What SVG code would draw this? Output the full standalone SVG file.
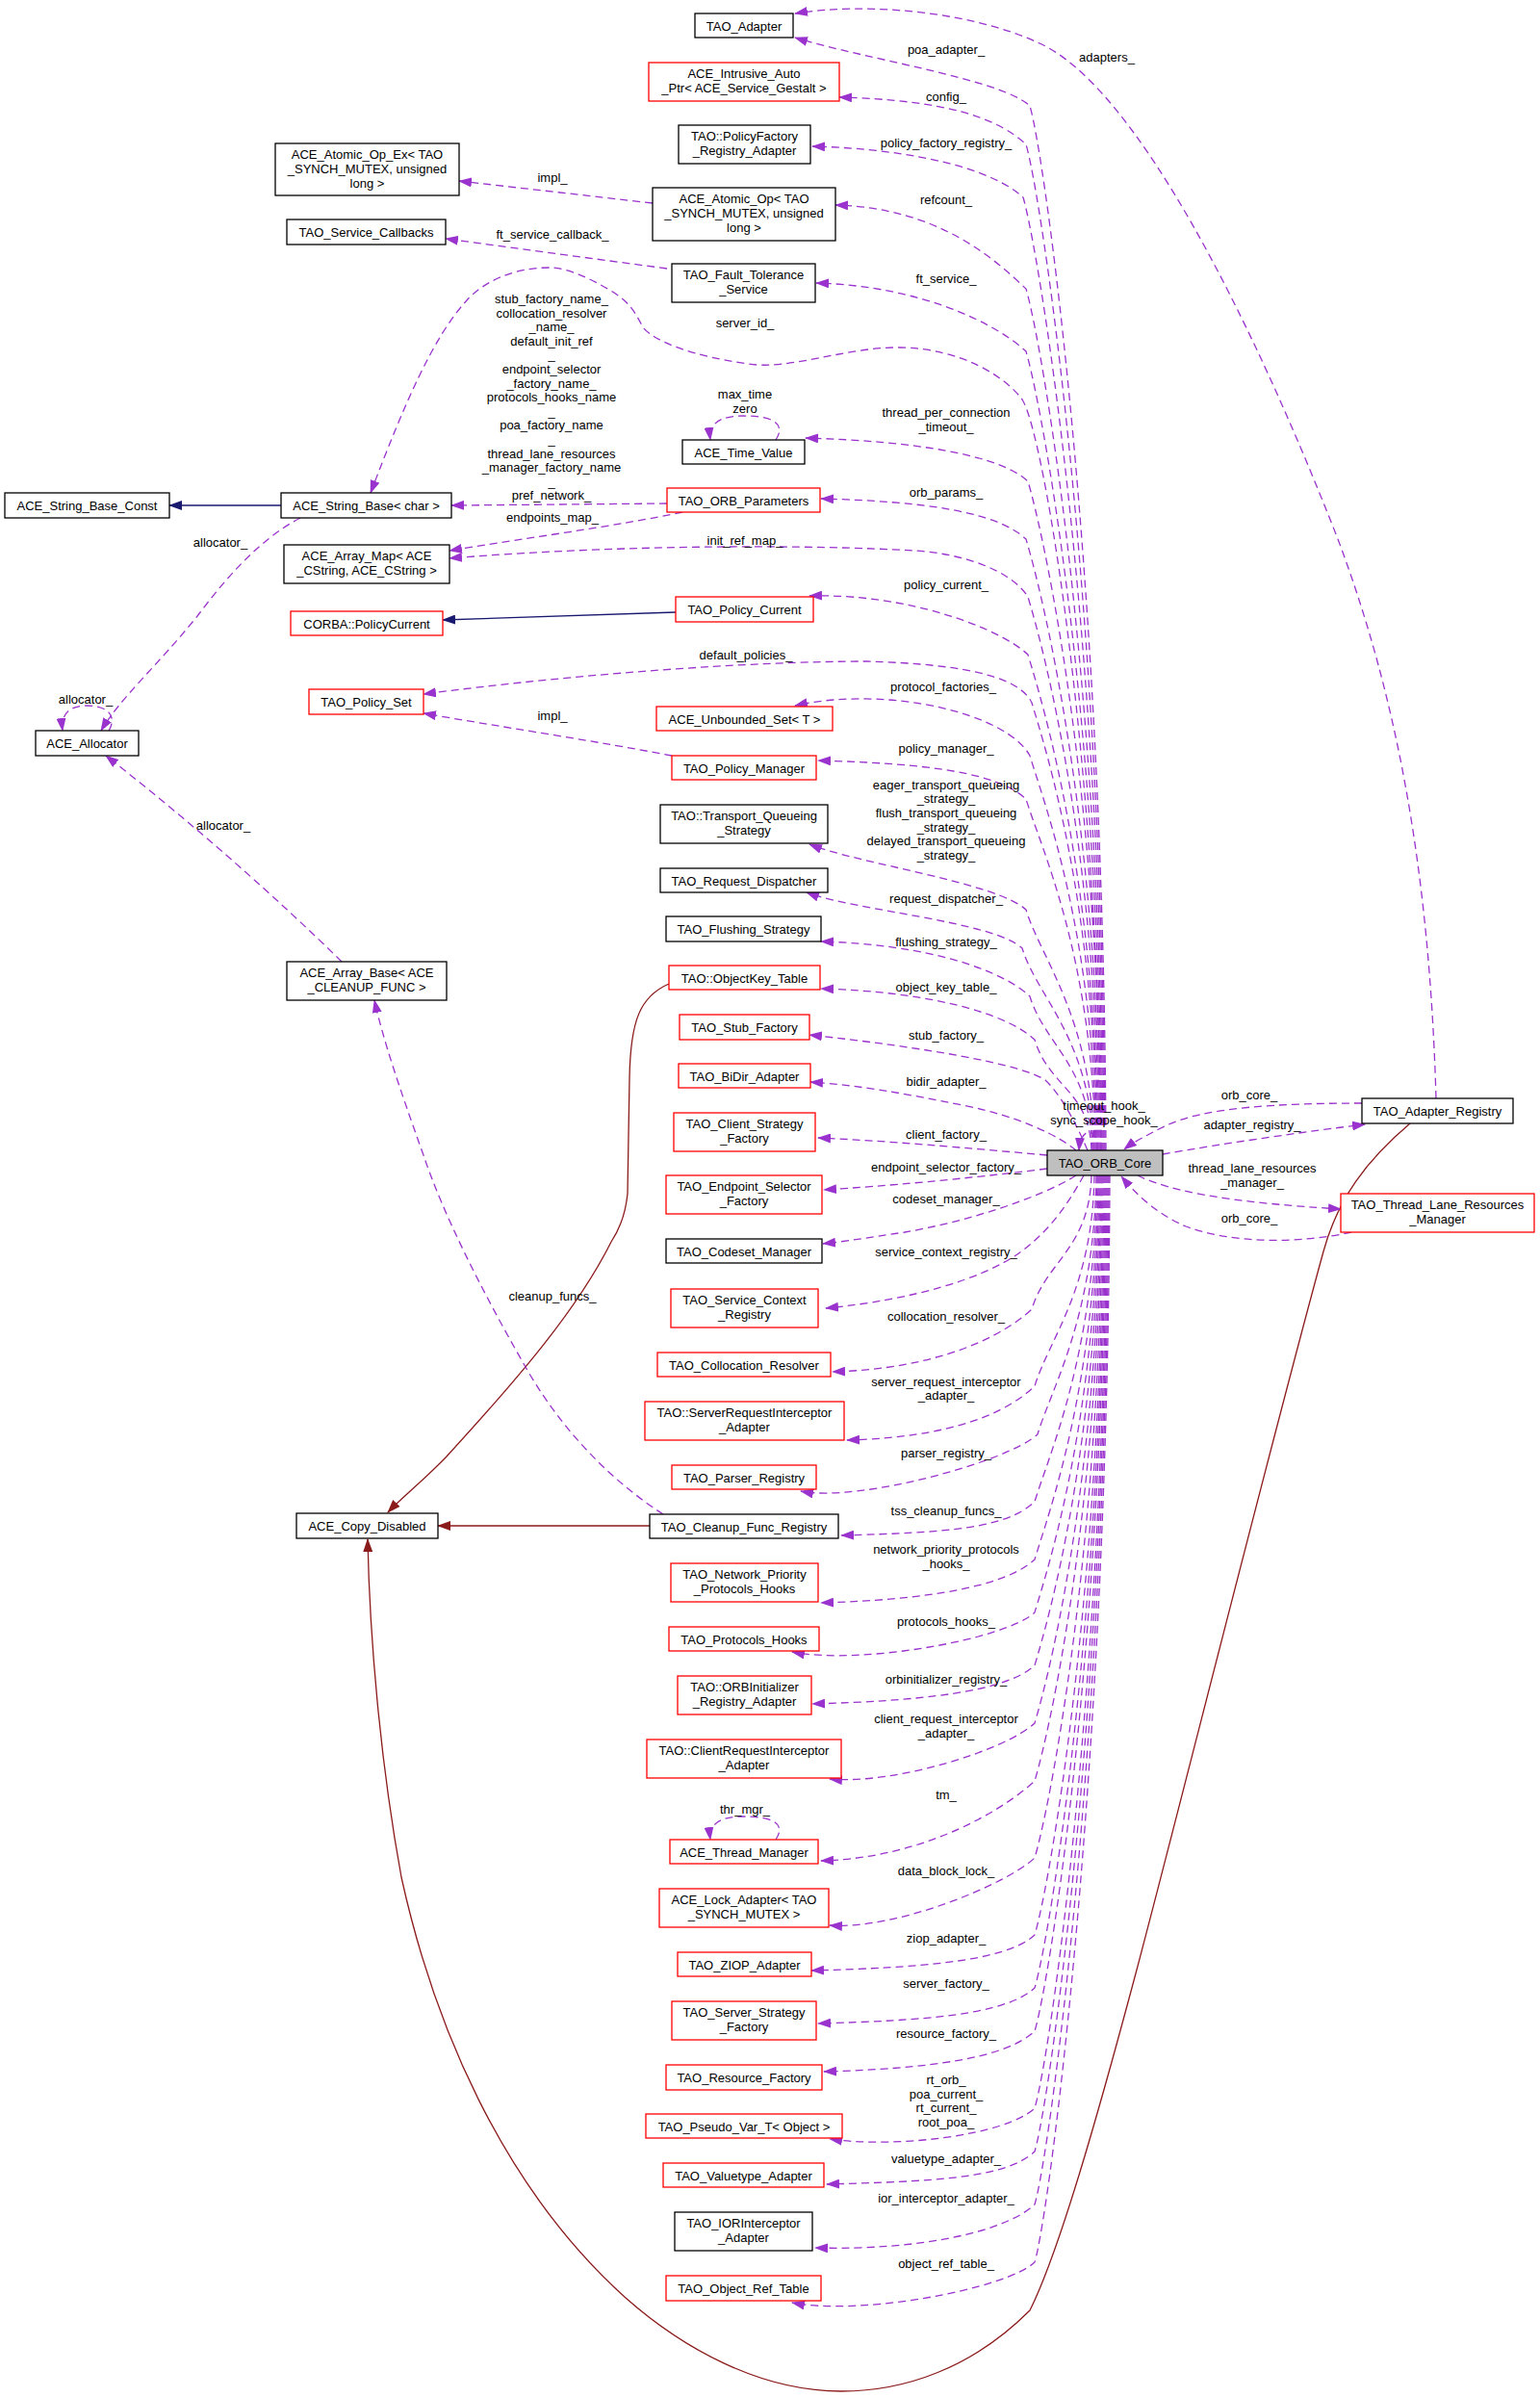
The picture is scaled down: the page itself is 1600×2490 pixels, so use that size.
<svg xmlns="http://www.w3.org/2000/svg" width="1600" height="2490" viewBox="0 0 1600 2490">
<style>
text{font-family:"Liberation Sans",Arial,Helvetica,sans-serif;font-size:13px;fill:#000;text-anchor:middle}
.b{fill:#fff;stroke:#000;stroke-width:1.3}
.r{fill:#fff;stroke:#ff0000;stroke-width:1.3}
.g{fill:#bfbfbf;stroke:#000;stroke-width:1.3}
.e{fill:none;stroke:#9a32cd;stroke-width:1.3;stroke-dasharray:8,5;marker-end:url(#ap)}
.nv{fill:none;stroke:#191970;stroke-width:1.3;marker-end:url(#an)}
.dr{fill:none;stroke:#8b1a1a;stroke-width:1.3;marker-end:url(#ar)}
</style>
<defs>
<marker id="ap" viewBox="0 0 14 10" refX="13" refY="5" markerWidth="14" markerHeight="10" markerUnits="userSpaceOnUse" orient="auto"><path d="M0,0 L14,5 L0,10 z" fill="#9a32cd" stroke="none"/></marker>
<marker id="an" viewBox="0 0 14 10" refX="13" refY="5" markerWidth="14" markerHeight="10" markerUnits="userSpaceOnUse" orient="auto"><path d="M0,0 L14,5 L0,10 z" fill="#191970" stroke="none"/></marker>
<marker id="ar" viewBox="0 0 14 10" refX="13" refY="5" markerWidth="14" markerHeight="10" markerUnits="userSpaceOnUse" orient="auto"><path d="M0,0 L14,5 L0,10 z" fill="#8b1a1a" stroke="none"/></marker>
</defs>
<rect width="1600" height="2490" fill="#fff"/>
<g id="connectors">
<!-- inheritance -->
<path class="nv" d="M292,525 L176,525"/>
<path class="nv" d="M702,636 L460,644"/>
<path class="dr" d="M675,1585 L455,1585"/>
<path class="dr" d="M695,1022 C665,1035 655,1060 654,1120 L652,1240 C650,1260 645,1275 635,1290 C600,1360 540,1430 464,1513 C440,1538 418,1555 403,1571"/>
<path class="dr" d="M1465,1167 C1420,1205 1390,1245 1375,1300 C1320,1500 1220,1900 1180,2050 C1140,2200 1100,2340 1070,2400 C1010,2460 940,2484 874,2484 C790,2484 710,2440 650,2387 C520,2270 450,2100 417,1950 C395,1830 384,1700 382,1599"/>
<!-- left usage edges -->
<path class="e" d="M678,211 L477,188"/>
<path class="e" d="M693,279 L463,248"/>
<path class="e" d="M693,523 L469,525"/>
<path class="e" d="M709,532 C650,545 520,563 467,572"/>
<path class="e" d="M698,785 C620,770 520,755 440,741"/>
<path class="e" d="M312,538 C270,560 235,600 205,640 C165,690 125,725 105,759"/>
<path class="e" d="M355,999 C290,935 200,855 110,785"/>
<path class="e" d="M689,1573 C630,1535 580,1480 546,1420 C500,1340 460,1260 440,1200 C415,1130 398,1080 389,1039"/>
<path class="e" d="M113,759 C121,746 115,733 90,733 C72,733 63,742 65,759"/>
<path class="e" d="M806,457 C814,445 812,432 772,432 C748,432 736,440 738,457"/>
<path class="e" d="M806,1911 C814,1899 812,1887 772,1887 C748,1887 736,1895 738,1911"/>
<!-- ORB core upper fan -->
<path class="e" d="M1149,1195 C1147,598 1085,160 1070,110 C1040,82 896,61 826,39"/>
<path class="e" d="M1148,1195 C1146,620 1081,200 1066,150 C1036,122 982,104 872,101"/>
<path class="e" d="M1147,1195 C1145,650 1078,255 1063,205 C1033,177 954,155 844,152"/>
<path class="e" d="M1146,1195 C1144,703 1081,350 1066,300 C1036,272 978,216 868,213"/>
<path class="e" d="M1145,1195 C1143,738 1081,415 1066,365 C1036,337 958,297 848,294"/>
<path class="e" d="M1144,1195 C1142,800 1085,450 1062,415 C1045,392 1000,362 935,361 C880,360 820,385 777,378 C720,370 680,355 668,340 C660,325 655,315 638,304 C615,290 590,278 571,278 C530,278 500,295 485,312 C450,350 420,420 385,512"/>
<path class="e" d="M1144,1195 C1142,813 1083,550 1068,500 C1038,472 947,458 837,455"/>
<path class="e" d="M1143,1195 C1141,846 1081,610 1066,560 C1036,532 963,521 853,518"/>
<path class="e" d="M1142,1195 C1140,879 1083,670 1068,620 C1050,592 1000,575 950,572 C850,566 650,565 467,580"/>
<path class="e" d="M1141,1195 C1139,912 1083,730 1068,680 C1038,652 941,616 841,619"/>
<path class="e" d="M1140,1195 C1138,939 1087,780 1072,730 C1060,705 1010,690 900,687 C780,687 600,700 440,721"/>
<path class="e" d="M1139,1195 C1137,970 1085,835 1070,785 C1045,740 920,712 826,733"/>
<path class="e" d="M1138,1195 C1136,994 1081,880 1066,830 C1036,802 960,793 850,790"/>
<path class="e" d="M1137,1195 C1135,1058 1081,995 1066,945 C1036,917 891,897 841,877"/>
<path class="e" d="M1136,1195 C1134,1080 1077,1035 1062,985 C1032,957 888,946 838,927"/>
<path class="e" d="M1135,1195 C1133,1107 1085,1085 1070,1035 C1040,1007 963,981 853,978"/>
<path class="e" d="M1134,1195 C1132,1132 1090,1130 1075,1080 C1045,1052 963,1030 853,1027"/>
<path class="e" d="M1130,1195 C1115,1160 1100,1135 1086,1122 C1060,1105 960,1088 841,1075"/>
<path class="e" d="M1118,1195 C1100,1180 1060,1160 1000,1148 C940,1136 890,1127 842,1124"/>
<path class="e" d="M1088,1200 C1000,1192 920,1185 850,1182"/>
<path class="e" d="M1088,1214 C1000,1225 920,1232 856,1236"/>
<!-- ORB core lower fan -->
<path class="e" d="M1118,1221 C1080,1245 1000,1270 940,1280 C900,1286 875,1290 855,1292"/>
<path class="e" d="M1126,1221 C1110,1250 1090,1280 1057,1303 C1020,1328 950,1350 858,1359"/>
<path class="e" d="M1134,1221 C1132,1297 1087,1310 1072,1360 C1042,1388 975,1422 865,1425"/>
<path class="e" d="M1137,1221 C1135,1341 1090,1390 1075,1440 C1045,1468 990,1493 880,1496"/>
<path class="e" d="M1139,1221 C1137,1369 1093,1440 1078,1490 C1048,1518 892,1561 832,1549"/>
<path class="e" d="M1140,1221 C1138,1407 1090,1510 1075,1560 C1045,1588 984,1592 874,1595"/>
<path class="e" d="M1141,1221 C1139,1440 1090,1570 1075,1620 C1045,1648 963,1662 853,1665"/>
<path class="e" d="M1142,1221 C1140,1471 1090,1625 1075,1675 C1045,1703 893,1730 823,1716"/>
<path class="e" d="M1143,1221 C1141,1501 1090,1680 1075,1730 C1045,1758 954,1767 844,1770"/>
<path class="e" d="M1144,1221 C1142,1534 1090,1740 1075,1790 C1045,1818 930,1854 862,1848"/>
<path class="e" d="M1145,1221 C1143,1567 1090,1800 1075,1850 C1045,1878 963,1930 853,1933"/>
<path class="e" d="M1146,1221 C1144,1611 1090,1880 1075,1930 C1045,1958 930,2005 862,2000"/>
<path class="e" d="M1147,1221 C1145,1655 1090,1960 1075,2010 C1045,2038 953,2044 843,2047"/>
<path class="e" d="M1148,1221 C1146,1685 1090,2015 1075,2065 C1045,2093 960,2099 850,2102"/>
<path class="e" d="M1149,1221 C1147,1710 1090,2060 1075,2110 C1045,2138 966,2149 856,2152"/>
<path class="e" d="M1150,1221 C1148,1754 1090,2140 1075,2190 C1045,2218 932,2232 862,2222"/>
<path class="e" d="M1151,1221 C1149,1779 1090,2185 1075,2235 C1045,2263 969,2266 859,2269"/>
<path class="e" d="M1152,1221 C1150,1809 1090,2240 1075,2290 C1045,2318 957,2338 847,2335"/>
<path class="e" d="M1153,1221 C1151,1842 1090,2300 1075,2350 C1045,2378 893,2406 823,2392"/>
<!-- right side -->
<path class="e" d="M1140,1195 C1142,1172 1123,1168 1121,1195"/>
<path class="e" d="M1492,1141 C1485,900 1450,720 1390,560 C1300,330 1180,90 1080,45 C1010,12 900,2 826,14"/>
<path class="e" d="M1415,1146 C1330,1146 1250,1150 1210,1170 C1192,1179 1178,1186 1168,1194"/>
<path class="e" d="M1208,1199 C1270,1188 1360,1175 1418,1168"/>
<path class="e" d="M1182,1221 C1230,1245 1330,1252 1393,1256"/>
<path class="e" d="M1404,1280 C1350,1292 1280,1292 1232,1274 C1200,1260 1180,1240 1165,1222"/>
<!-- labels -->
<text x="983" y="56">poa_adapter_</text>
<text x="1150" y="64">adapters_</text>
<text x="983" y="105">config_</text>
<text x="983" y="153">policy_factory_registry_</text>
<text x="574" y="189">impl_</text>
<text x="983" y="212">refcount_</text>
<text x="574" y="248">ft_service_callback_</text>
<text x="983" y="294">ft_service_</text>
<text x="774" y="340">server_id_</text>
<text x="573" y="315"><tspan x="573">stub_factory_name_</tspan><tspan x="573" dy="14.6">collocation_resolver</tspan><tspan x="573" dy="14.6">_name_</tspan><tspan x="573" dy="14.6">default_init_ref</tspan><tspan x="573" dy="14.6">_</tspan><tspan x="573" dy="14.6">endpoint_selector</tspan><tspan x="573" dy="14.6">_factory_name_</tspan><tspan x="573" dy="14.6">protocols_hooks_name</tspan><tspan x="573" dy="14.6">_</tspan><tspan x="573" dy="14.6">poa_factory_name</tspan><tspan x="573" dy="14.6">_</tspan><tspan x="573" dy="14.6">thread_lane_resources</tspan><tspan x="573" dy="14.6">_manager_factory_name</tspan><tspan x="573" dy="14.6">_</tspan><tspan x="573" dy="14.6">pref_network_</tspan></text>
<text x="774" y="414">max_time</text>
<text x="774" y="429">zero</text>
<text x="983" y="433">thread_per_connection</text>
<text x="983" y="448">_timeout_</text>
<text x="983" y="516">orb_params_</text>
<text x="574" y="542">endpoints_map_</text>
<text x="774" y="566">init_ref_map_</text>
<text x="229" y="568">allocator_</text>
<text x="983" y="612">policy_current_</text>
<text x="775" y="685">default_policies_</text>
<text x="980" y="718">protocol_factories_</text>
<text x="89" y="731">allocator_</text>
<text x="574" y="748">impl_</text>
<text x="983" y="782">policy_manager_</text>
<text x="983" y="820">eager_transport_queueing</text>
<text x="983" y="834">_strategy_</text>
<text x="983" y="849">flush_transport_queueing</text>
<text x="983" y="864">_strategy_</text>
<text x="983" y="878">delayed_transport_queueing</text>
<text x="983" y="893">_strategy_</text>
<text x="232" y="862">allocator_</text>
<text x="983" y="938">request_dispatcher_</text>
<text x="983" y="983">flushing_strategy_</text>
<text x="983" y="1030">object_key_table_</text>
<text x="983" y="1080">stub_factory_</text>
<text x="983" y="1128">bidir_adapter_</text>
<text x="1298" y="1142">orb_core_</text>
<text x="1147" y="1153">timeout_hook_</text>
<text x="1147" y="1168">sync_scope_hook_</text>
<text x="1301" y="1173">adapter_registry_</text>
<text x="983" y="1183">client_factory_</text>
<text x="983" y="1217">endpoint_selector_factory_</text>
<text x="1301" y="1218">thread_lane_resources</text>
<text x="1301" y="1233">_manager_</text>
<text x="983" y="1250">codeset_manager_</text>
<text x="1298" y="1270">orb_core_</text>
<text x="983" y="1305">service_context_registry_</text>
<text x="574" y="1351">cleanup_funcs_</text>
<text x="983" y="1372">collocation_resolver_</text>
<text x="983" y="1440">server_request_interceptor</text>
<text x="983" y="1454">_adapter_</text>
<text x="983" y="1514">parser_registry_</text>
<text x="983" y="1574">tss_cleanup_funcs_</text>
<text x="983" y="1614">network_priority_protocols</text>
<text x="983" y="1629">_hooks_</text>
<text x="983" y="1689">protocols_hooks_</text>
<text x="983" y="1749">orbinitializer_registry_</text>
<text x="983" y="1790">client_request_interceptor</text>
<text x="983" y="1805">_adapter_</text>
<text x="983" y="1869">tm_</text>
<text x="774" y="1884">thr_mgr_</text>
<text x="983" y="1948">data_block_lock_</text>
<text x="983" y="2018">ziop_adapter_</text>
<text x="983" y="2065">server_factory_</text>
<text x="983" y="2117">resource_factory_</text>
<text x="983" y="2165">rt_orb_</text>
<text x="983" y="2180">poa_current_</text>
<text x="983" y="2194">rt_current_</text>
<text x="983" y="2209">root_poa_</text>
<text x="983" y="2247">valuetype_adapter_</text>
<text x="983" y="2288">ior_interceptor_adapter_</text>
<text x="983" y="2356">object_ref_table_</text>
</g>
<g id="n_TAO_Adapter"><rect class="b" x="722" y="14" width="102" height="25"/><text x="773" y="31.5">TAO_Adapter</text></g>
<g id="n_ACE_Intrusive_Auto_Ptr"><rect class="r" x="674" y="65" width="198" height="40"/><text x="773" y="81">ACE_Intrusive_Auto</text><text x="773" y="96">_Ptr&lt; ACE_Service_Gestalt &gt;</text></g>
<g id="n_PolicyFactory_Registry_Adapter"><rect class="b" x="705" y="130" width="137" height="40"/><text x="773.5" y="146">TAO::PolicyFactory</text><text x="773.5" y="161">_Registry_Adapter</text></g>
<g id="n_ACE_Atomic_Op"><rect class="b" x="678" y="195" width="190" height="55"/><text x="773" y="211">ACE_Atomic_Op&lt; TAO</text><text x="773" y="226">_SYNCH_MUTEX, unsigned</text><text x="773" y="241">long &gt;</text></g>
<g id="n_TAO_Fault_Tolerance_Service"><rect class="b" x="698" y="274" width="149" height="40"/><text x="772.5" y="290">TAO_Fault_Tolerance</text><text x="772.5" y="305">_Service</text></g>
<g id="n_ACE_Time_Value"><rect class="b" x="709" y="457" width="127" height="25"/><text x="772.5" y="474.5">ACE_Time_Value</text></g>
<g id="n_TAO_ORB_Parameters"><rect class="r" x="693" y="507" width="159" height="25"/><text x="772.5" y="524.5">TAO_ORB_Parameters</text></g>
<g id="n_TAO_Policy_Current"><rect class="r" x="702" y="620" width="143" height="26"/><text x="773.5" y="637.5">TAO_Policy_Current</text></g>
<g id="n_ACE_Unbounded_Set"><rect class="r" x="682" y="734" width="183" height="25"/><text x="773.5" y="751.5">ACE_Unbounded_Set&lt; T &gt;</text></g>
<g id="n_TAO_Policy_Manager"><rect class="r" x="698" y="785" width="150" height="25"/><text x="773" y="802.5">TAO_Policy_Manager</text></g>
<g id="n_Transport_Queueing_Strategy"><rect class="b" x="686" y="836" width="174" height="40"/><text x="773" y="852">TAO::Transport_Queueing</text><text x="773" y="867">_Strategy</text></g>
<g id="n_TAO_Request_Dispatcher"><rect class="b" x="686" y="902" width="174" height="25"/><text x="773" y="919.5">TAO_Request_Dispatcher</text></g>
<g id="n_TAO_Flushing_Strategy"><rect class="b" x="692" y="952" width="161" height="26"/><text x="772.5" y="969.5">TAO_Flushing_Strategy</text></g>
<g id="n_ObjectKey_Table"><rect class="r" x="695" y="1003" width="157" height="25"/><text x="773.5" y="1020.5">TAO::ObjectKey_Table</text></g>
<g id="n_TAO_Stub_Factory"><rect class="r" x="706" y="1054" width="135" height="26"/><text x="773.5" y="1071.5">TAO_Stub_Factory</text></g>
<g id="n_TAO_BiDir_Adapter"><rect class="r" x="705" y="1105" width="137" height="25"/><text x="773.5" y="1122.5">TAO_BiDir_Adapter</text></g>
<g id="n_TAO_Client_Strategy_Factory"><rect class="r" x="700" y="1156" width="147" height="40"/><text x="773.5" y="1172">TAO_Client_Strategy</text><text x="773.5" y="1187">_Factory</text></g>
<g id="n_TAO_Endpoint_Selector_Factory"><rect class="r" x="692" y="1221" width="162" height="40"/><text x="773" y="1237">TAO_Endpoint_Selector</text><text x="773" y="1252">_Factory</text></g>
<g id="n_TAO_Codeset_Manager"><rect class="b" x="692" y="1287" width="162" height="25"/><text x="773" y="1304.5">TAO_Codeset_Manager</text></g>
<g id="n_TAO_Service_Context_Registry"><rect class="r" x="697" y="1339" width="153" height="40"/><text x="773.5" y="1355">TAO_Service_Context</text><text x="773.5" y="1370">_Registry</text></g>
<g id="n_TAO_Collocation_Resolver"><rect class="r" x="683" y="1405" width="180" height="25"/><text x="773" y="1422.5">TAO_Collocation_Resolver</text></g>
<g id="n_ServerRequestInterceptor_Adapter"><rect class="r" x="670" y="1456" width="207" height="40"/><text x="773.5" y="1472">TAO::ServerRequestInterceptor</text><text x="773.5" y="1487">_Adapter</text></g>
<g id="n_TAO_Parser_Registry"><rect class="r" x="698" y="1522" width="150" height="25"/><text x="773" y="1539.5">TAO_Parser_Registry</text></g>
<g id="n_TAO_Cleanup_Func_Registry"><rect class="b" x="675" y="1573" width="196" height="25"/><text x="773" y="1590.5">TAO_Cleanup_Func_Registry</text></g>
<g id="n_TAO_Network_Priority_Protocols_Hooks"><rect class="r" x="697" y="1624" width="153" height="40"/><text x="773.5" y="1640">TAO_Network_Priority</text><text x="773.5" y="1655">_Protocols_Hooks</text></g>
<g id="n_TAO_Protocols_Hooks"><rect class="r" x="695" y="1690" width="156" height="25"/><text x="773" y="1707.5">TAO_Protocols_Hooks</text></g>
<g id="n_ORBInitializer_Registry_Adapter"><rect class="r" x="704" y="1741" width="139" height="40"/><text x="773.5" y="1757">TAO::ORBInitializer</text><text x="773.5" y="1772">_Registry_Adapter</text></g>
<g id="n_ClientRequestInterceptor_Adapter"><rect class="r" x="672" y="1807" width="202" height="40"/><text x="773" y="1823">TAO::ClientRequestInterceptor</text><text x="773" y="1838">_Adapter</text></g>
<g id="n_ACE_Thread_Manager"><rect class="r" x="696" y="1911" width="154" height="25"/><text x="773" y="1928.5">ACE_Thread_Manager</text></g>
<g id="n_ACE_Lock_Adapter"><rect class="r" x="685" y="1962" width="176" height="40"/><text x="773" y="1978">ACE_Lock_Adapter&lt; TAO</text><text x="773" y="1993">_SYNCH_MUTEX &gt;</text></g>
<g id="n_TAO_ZIOP_Adapter"><rect class="r" x="704" y="2028" width="139" height="25"/><text x="773.5" y="2045.5">TAO_ZIOP_Adapter</text></g>
<g id="n_TAO_Server_Strategy_Factory"><rect class="r" x="698" y="2079" width="150" height="40"/><text x="773" y="2095">TAO_Server_Strategy</text><text x="773" y="2110">_Factory</text></g>
<g id="n_TAO_Resource_Factory"><rect class="r" x="692" y="2145" width="162" height="26"/><text x="773" y="2162.5">TAO_Resource_Factory</text></g>
<g id="n_TAO_Pseudo_Var_T"><rect class="r" x="671" y="2196" width="204" height="25"/><text x="773" y="2213.5">TAO_Pseudo_Var_T&lt; Object &gt;</text></g>
<g id="n_TAO_Valuetype_Adapter"><rect class="r" x="689" y="2247" width="167" height="25"/><text x="772.5" y="2264.5">TAO_Valuetype_Adapter</text></g>
<g id="n_TAO_IORInterceptor_Adapter"><rect class="b" x="701" y="2298" width="143" height="40"/><text x="772.5" y="2314">TAO_IORInterceptor</text><text x="772.5" y="2329">_Adapter</text></g>
<g id="n_TAO_Object_Ref_Table"><rect class="r" x="692" y="2364" width="161" height="26"/><text x="772.5" y="2381.5">TAO_Object_Ref_Table</text></g>
<g id="n_ACE_Atomic_Op_Ex"><rect class="b" x="286" y="149" width="191" height="54"/><text x="381.5" y="165">ACE_Atomic_Op_Ex&lt; TAO</text><text x="381.5" y="180">_SYNCH_MUTEX, unsigned</text><text x="381.5" y="195">long &gt;</text></g>
<g id="n_TAO_Service_Callbacks"><rect class="b" x="298" y="228" width="165" height="26"/><text x="380.5" y="245.5">TAO_Service_Callbacks</text></g>
<g id="n_ACE_String_Base_Const"><rect class="b" x="5" y="512" width="171" height="26"/><text x="90.5" y="529.5">ACE_String_Base_Const</text></g>
<g id="n_ACE_String_Base_char"><rect class="b" x="292" y="512" width="177" height="26"/><text x="380.5" y="529.5">ACE_String_Base&lt; char &gt;</text></g>
<g id="n_ACE_Array_Map"><rect class="b" x="295" y="566" width="172" height="40"/><text x="381" y="582">ACE_Array_Map&lt; ACE</text><text x="381" y="597">_CString, ACE_CString &gt;</text></g>
<g id="n_CORBA_PolicyCurrent"><rect class="r" x="302" y="635" width="158" height="25"/><text x="381" y="652.5">CORBA::PolicyCurrent</text></g>
<g id="n_TAO_Policy_Set"><rect class="r" x="321" y="716" width="119" height="26"/><text x="380.5" y="733.5">TAO_Policy_Set</text></g>
<g id="n_ACE_Allocator"><rect class="b" x="37" y="759" width="107" height="26"/><text x="90.5" y="776.5">ACE_Allocator</text></g>
<g id="n_ACE_Array_Base"><rect class="b" x="298" y="999" width="166" height="40"/><text x="381" y="1015">ACE_Array_Base&lt; ACE</text><text x="381" y="1030">_CLEANUP_FUNC &gt;</text></g>
<g id="n_ACE_Copy_Disabled"><rect class="b" x="308" y="1572" width="147" height="26"/><text x="381.5" y="1589.5">ACE_Copy_Disabled</text></g>
<g id="n_TAO_ORB_Core"><rect class="g" x="1088" y="1195" width="120" height="26"/><text x="1148" y="1212.5">TAO_ORB_Core</text></g>
<g id="n_TAO_Adapter_Registry"><rect class="b" x="1415" y="1141" width="157" height="26"/><text x="1493.5" y="1158.5">TAO_Adapter_Registry</text></g>
<g id="n_TAO_Thread_Lane_Resources_Manager"><rect class="r" x="1393" y="1240" width="201" height="40"/><text x="1493.5" y="1256">TAO_Thread_Lane_Resources</text><text x="1493.5" y="1271">_Manager</text></g>
</svg>
